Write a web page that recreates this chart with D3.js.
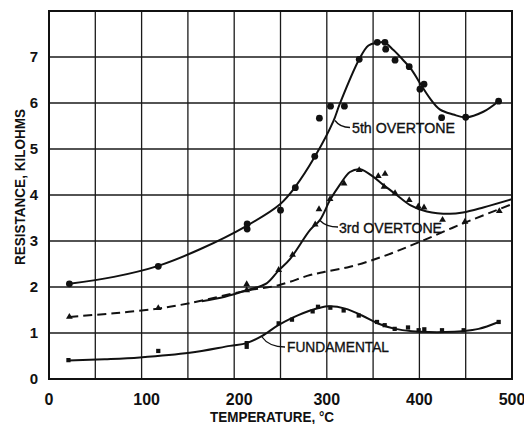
<!DOCTYPE html>
<html>
<head>
<meta charset="utf-8">
<script src="https://cdn.jsdelivr.net/npm/d3@7"></script>
<style>
  body { margin: 0; background: #fff; }
  svg { display: block; }
  text { font-family: "Liberation Sans", Arial, sans-serif; fill: #111; }
</style>
</head>
<body>
<svg id="chart" width="524" height="424"></svg>
<script>
// temperature (deg C) vs resistance (kilohms)
const xTicks = [0, 100, 200, 300, 400, 500];
const yTicks = [0, 1, 2, 3, 4, 5, 6, 7];

const fifthPoints = [
    [22, 2.07], [118, 2.45], [214, 3.37], [214, 3.26], [250, 3.67], [266, 4.16],
    [287, 4.84], [292, 5.67], [304, 5.93], [319, 5.93], [335, 6.95], [354.5, 7.32],
    [362.8, 7.32], [363.6, 7.17], [373.7, 6.93], [389, 6.79], [400.6, 6.30],
    [405, 6.41], [424, 5.68], [450, 5.69], [485.5, 6.04]
];
const fifthCurve = [
    [22, 2.07], [70, 2.22], [118, 2.46], [163, 2.82], [213.5, 3.33], [249.5, 3.8],
    [265.7, 4.17], [287.3, 4.84], [307, 5.6], [314, 5.98], [335, 6.95], [345, 7.25],
    [355, 7.31], [362, 7.32], [372, 7.15], [382.6, 6.93], [391.7, 6.72], [400.6, 6.43],
    [411.4, 6.1], [422, 5.86], [436.6, 5.75], [450.3, 5.69], [469, 5.81], [485.5, 6.04]
];

const thirdPoints = [
    [22, 1.35], [118, 1.54], [213.5, 2.06], [213.5, 1.93], [248, 2.37], [263, 2.7],
    [287.5, 3.36], [291.6, 3.69], [303.5, 3.91], [318.6, 4.25], [335, 4.54],
    [355.6, 4.41], [362.9, 4.46], [361.8, 4.18], [373.7, 4.04], [389, 3.89],
    [398.8, 3.75], [405, 3.73], [425, 3.46], [449.2, 3.42], [486.3, 3.65]
];
const thirdCurve = [
    [165, 1.69], [190, 1.79], [213.5, 1.93], [235, 2.08], [247.6, 2.35], [260, 2.6],
    [282, 3.24], [292.7, 3.46], [303.5, 3.89], [314, 4.22], [325, 4.5], [336, 4.56],
    [350, 4.40], [361, 4.22], [375.5, 4.0], [390, 3.78], [408, 3.64], [433, 3.59],
    [447, 3.62], [469, 3.73], [500, 3.91]
];
const dashedCurve = [
    [22, 1.35], [70, 1.43], [118, 1.53], [152, 1.65], [213.5, 1.92], [248, 2.04],
    [282, 2.26], [298, 2.33], [325, 2.44], [360, 2.66], [399, 2.97], [448, 3.39],
    [500, 3.80]
];

const fundPoints = [
    [21, 0.41], [118, 0.61], [213.5, 0.78], [213.5, 0.70], [248, 1.21], [262.4, 1.29],
    [284.7, 1.47], [290.5, 1.57], [303.8, 1.55], [318.2, 1.49], [334.5, 1.38],
    [354.2, 1.24], [362.5, 1.17], [373.3, 1.09], [387.7, 1.12], [399.2, 1.06],
    [405.3, 1.08], [424.4, 1.06], [447.8, 1.06], [485.6, 1.24]
];
const fundCurve = [
    [21, 0.40], [60, 0.43], [98, 0.47], [152, 0.57], [195.5, 0.72], [213.5, 0.78],
    [229.7, 0.93], [247.6, 1.17], [263.8, 1.34], [282, 1.49], [302, 1.58], [320, 1.53],
    [338, 1.38], [356, 1.20], [374, 1.09], [392, 1.04], [410, 1.02], [428, 1.02],
    [446, 1.04], [464, 1.09], [485.6, 1.24]
];

const seriesLabels = ["5th OVERTONE", "3rd OVERTONE", "FUNDAMENTAL"];

const svg = d3.select("#chart");
const x = d3.scaleLinear().domain([0, 500]).range([49, 512]);
const y = d3.scaleLinear().domain([0, 8]).range([379, 11]);

// grid
svg.append("g")
    .selectAll("line")
    .data(d3.range(50, 500, 50))
    .join("line")
    .attr("x1", d => x(d)).attr("x2", d => x(d))
    .attr("y1", y(0)).attr("y2", y(8))
    .attr("stroke", "#1a1a1a").attr("stroke-width", 1.3);

svg.append("g")
    .selectAll("line")
    .data(d3.range(1, 8))
    .join("line")
    .attr("x1", x(0)).attr("x2", x(500))
    .attr("y1", d => y(d)).attr("y2", d => y(d))
    .attr("stroke", "#1a1a1a").attr("stroke-width", 1.3);

svg.append("rect")
    .attr("x", x(0)).attr("y", y(8))
    .attr("width", x(500) - x(0)).attr("height", y(0) - y(8))
    .attr("fill", "none").attr("stroke", "#111").attr("stroke-width", 2);

// tick labels
svg.append("g")
    .selectAll("text")
    .data(xTicks)
    .join("text")
    .attr("x", d => x(d) + (d === 100 || d === 200 ? 5 : 0))
    .attr("y", 405)
    .attr("text-anchor", "middle")
    .attr("font-size", "16px")
    .attr("font-weight", "bold")
    .text(d => d);

svg.append("g")
    .selectAll("text")
    .data(yTicks)
    .join("text")
    .attr("x", 38)
    .attr("y", d => y(d) + 5)
    .attr("text-anchor", "end")
    .attr("font-size", "15px")
    .attr("font-weight", "bold")
    .text(d => d);

// axis titles
svg.append("text")
    .attr("x", 272)
    .attr("y", 422)
    .attr("text-anchor", "middle")
    .attr("font-size", "15px")
    .attr("font-weight", "bold")
    .attr("textLength", 124)
    .attr("lengthAdjust", "spacingAndGlyphs")
    .text("TEMPERATURE, °C");

svg.append("text")
    .attr("transform", "translate(25, 187) rotate(-90)")
    .attr("text-anchor", "middle")
    .attr("font-size", "15.5px")
    .attr("font-weight", "bold")
    .attr("textLength", 156)
    .attr("lengthAdjust", "spacingAndGlyphs")
    .text("RESISTANCE, KILOHMS");

// curves
const lineGen = d3.line()
    .x(d => x(d[0]))
    .y(d => y(d[1]))
    .curve(d3.curveCatmullRom.alpha(0.5));

svg.append("path")
    .datum(dashedCurve)
    .attr("fill", "none")
    .attr("stroke", "#111")
    .attr("stroke-width", 2)
    .attr("stroke-dasharray", "9,5")
    .attr("d", lineGen);

[fifthCurve, thirdCurve, fundCurve].forEach(c => {
    svg.append("path")
        .datum(c)
        .attr("fill", "none")
        .attr("stroke", "#111")
        .attr("stroke-width", 2)
        .attr("d", lineGen);
});

// markers
svg.append("g")
    .selectAll("circle")
    .data(fifthPoints)
    .join("circle")
    .attr("cx", d => x(d[0]))
    .attr("cy", d => y(d[1]))
    .attr("r", 3.4)
    .attr("fill", "#111");

svg.append("g")
    .selectAll("path")
    .data(thirdPoints)
    .join("path")
    .attr("transform", d => `translate(${x(d[0])},${y(d[1])})`)
    .attr("d", d3.symbol(d3.symbolTriangle, 20))
    .attr("fill", "#111");

svg.append("g")
    .selectAll("path")
    .data(fundPoints)
    .join("path")
    .attr("transform", d => `translate(${x(d[0])},${y(d[1])})`)
    .attr("d", d3.symbol(d3.symbolSquare, 18))
    .attr("fill", "#111");

// series labels with leaders
const labelPos = [
    { x: 352, y: 133, len: 103, leader: "M335,120.5 Q340,127.5 350,127.5" },
    { x: 339, y: 232.5, len: 103, leader: "M320,220.5 Q326,227 338,227" },
    { x: 287, y: 352, len: 102, leader: "M262,337 Q269,347 285,347" }
];

seriesLabels.forEach((s, i) => {
    const p = labelPos[i];
    svg.append("path")
        .attr("d", p.leader)
        .attr("fill", "none")
        .attr("stroke", "#111")
        .attr("stroke-width", 1.3);
    svg.append("text")
        .attr("x", p.x)
        .attr("y", p.y)
        .attr("font-size", "14.5px")
        .attr("stroke", "#111")
        .attr("stroke-width", 0.35)
        .attr("textLength", p.len)
        .attr("lengthAdjust", "spacingAndGlyphs")
        .text(s);
});
</script>
</body>
</html>
